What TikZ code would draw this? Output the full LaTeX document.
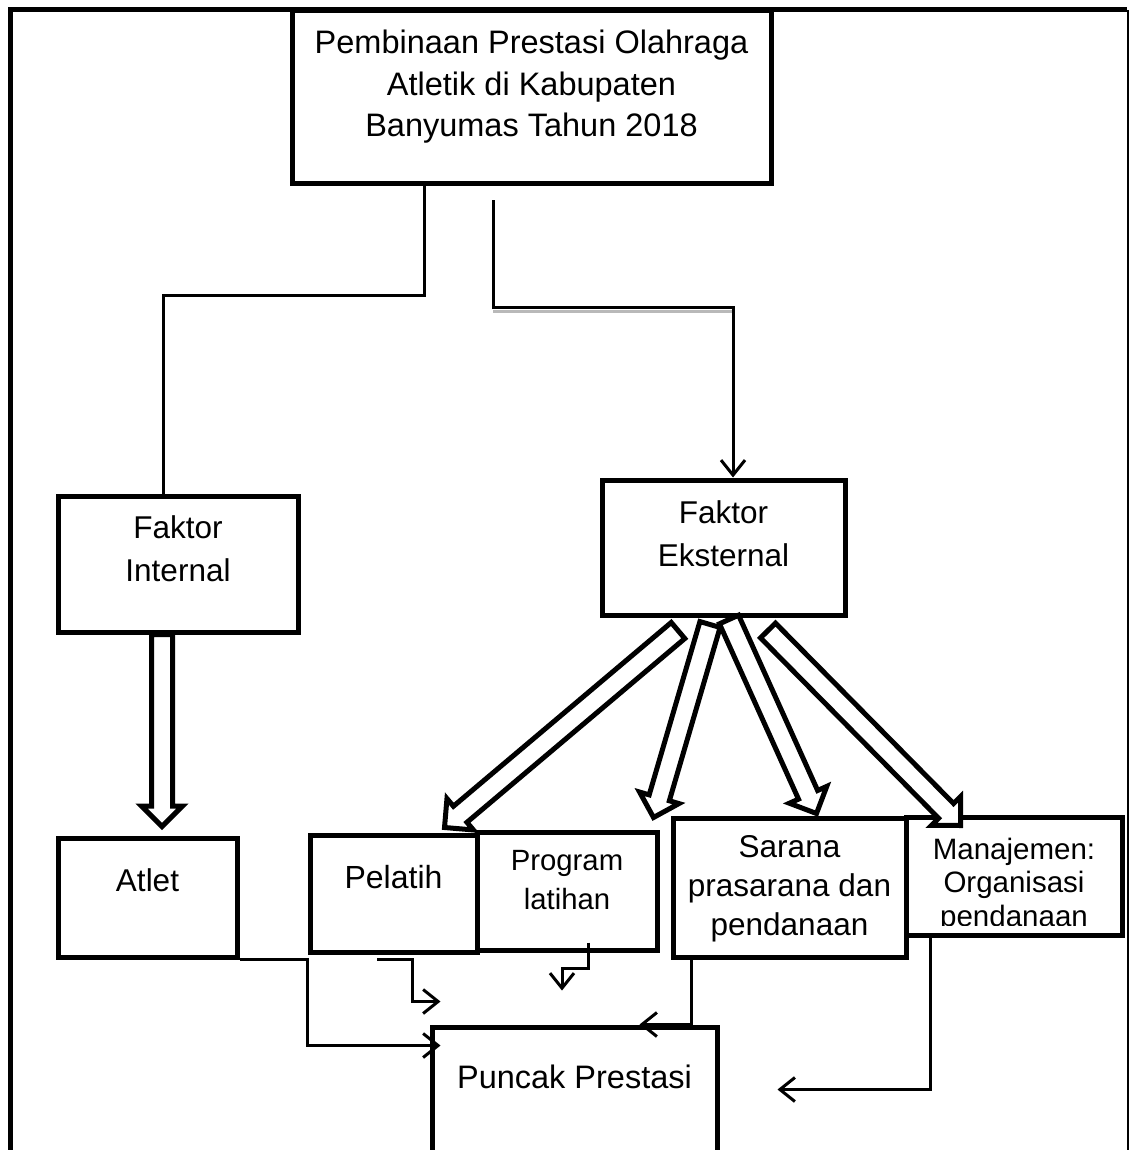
\documentclass[tikz,border=0pt]{standalone}
\usepackage{fontspec}
\setmainfont{Liberation Sans}
\usetikzlibrary{arrows.meta,calc}
\tikzstyle{box} = [rectangle, draw=black, line width=5pt, fill=white, inner sep=0pt]
\tikzstyle{txt} = [align=center, inner sep=0pt, font=\fontsize{31.5}{43}\selectfont]
\tikzstyle{line} = [line width=3pt]
\tikzstyle{arrow} = [line width=3pt, -{Straight Barb[length=15pt,width=24pt]}]
\tikzstyle{fat} = [draw=black, fill=white, line width=5pt, line join=miter]
\newcommand{\blockarrow}[2]{%
  \path let \p1=($(#2)-(#1)$) in
    \pgfextra{\pgfmathsetmacro{\arrang}{atan2(\y1,\x1)}\pgfmathsetmacro{\arrlen}{veclen(\x1,\y1)}%
      \global\let\arrang\arrang\global\let\arrlen\arrlen};
  \draw [fat, shift={(#1)}, rotate=\arrang]
    (0,-10.5) -- (\arrlen-20.5,-10.5) -- (\arrlen-20.5,-20.5) -- (\arrlen,0)
    -- (\arrlen-20.5,20.5) -- (\arrlen-20.5,10.5) -- (0,10.5) -- cycle;}

\begin{document}
\begin{tikzpicture}[x=1pt, y=-1pt]
	\useasboundingbox [fill=white] (0,0) rectangle (1129,1150);
	\draw [line width=5pt] (10,1160) -- (10,10) -- (1127,10);
	\draw [line width=2pt] (1127.5,10) -- (1127.5,1160);

	\node (title) [box, minimum width=479, minimum height=173] at (531.5,97.5) {};
	\node (titletext) [txt, font=\fontsize{32.5}{41.5}\selectfont] at ([yshift=10.5]title.center)
		{Pembinaan Prestasi Olahraga\\Atletik di Kabupaten\\Banyumas Tahun 2018};

	\node (intl) [box, minimum width=240, minimum height=136] at (178,564) {};
	\node (intltext) [txt] at ([yshift=15.5]intl.center) {Faktor\\Internal};
	\node (extl) [box, minimum width=243, minimum height=135] at (723.5,547.5) {};
	\node (extltext) [txt] at ([yshift=14]extl.center) {Faktor\\Eksternal};

	\node (atlet) [box, minimum width=179, minimum height=119] at (147.5,897.5) {};
	\node (atlettext) [txt] at ([yshift=17.5]atlet.center) {Atlet};
	\node (pelatih) [box, minimum width=167, minimum height=117] at (393.5,893.5) {};
	\node (pelatihtext) [txt, font=\fontsize{32}{43}\selectfont] at ([yshift=16]pelatih.center) {Pelatih};
	\node (program) [box, minimum width=180, minimum height=118] at (567,891) {};
	\node (programtext) [txt, font=\fontsize{29.3}{39}\selectfont] at ([yshift=10.5]program.center)
		{Program\\latihan};
	\node (sarana) [box, minimum width=233, minimum height=139] at (789.5,887.5) {};
	\node (saranatext) [txt, font=\fontsize{31.5}{39}\selectfont] at ([yshift=-1.5]sarana.center)
		{Sarana\\prasarana dan\\pendanaan};
	\node (manaj) [box, minimum width=216, minimum height=118] at (1014,876) {};
	\begin{scope}
		\clip (906,817) rectangle (1122,925);
		\node (manajtext) [txt, font=\fontsize{29.5}{33.5}\selectfont] at ([yshift=-9]manaj.center)
			{Manajemen:\\Organisasi\\pendanaan};
	\end{scope}
	\node (puncak) [box, minimum width=285, minimum height=173] at (574.5,1113.5) {};
	\node (puncaktext) [txt, font=\fontsize{32.5}{43}\selectfont] at ([yshift=-52]puncak.north) {Puncak Prestasi};

	\draw [line] ([xshift=-107.5]title.south) -- ++(0,109) -| ([xshift=-15]intl.north);
	\draw [gray!55, line width=3pt] ([xshift=-38.5,yshift=-124.5]title.south) -- ++(240,0);
	\draw [arrow] ([xshift=-38.5,yshift=-14]title.south) -- ++(0,107) -| ([xshift=9.5]extl.north);

	\draw [arrow] (atlet.south east) -- ++(68,0) |- ([xshift=11,yshift=-21]puncak.north west);
	\draw [arrow] ([xshift=-16.5,yshift=-5]pelatih.south) -- ++(35,0) |- ([xshift=11,yshift=23]puncak.north west);
	\draw [arrow] ([xshift=21,yshift=10]program.south) -- ++(0,26) -- ++(-26,0) -- ++(0,22);
	\draw [arrow] ([xshift=-98.5]sarana.south) |- ([xshift=210]puncak.north west);
	\draw [arrow] ([xshift=-84]manaj.south) |- ([xshift=58,yshift=-65]puncak.north east);

	\coordinate (dn1) at ([xshift=-16]intl.south);
	\coordinate (dn2) at ([xshift=14.5,yshift=9]atlet.north);
	\coordinate (e1s) at ([xshift=-45.5,yshift=-13]extl.south);
	\coordinate (e1t) at ([xshift=-35,yshift=5]pelatih.north east);
	\coordinate (e2s) at ([xshift=-13.5,yshift=-7]extl.south);
	\coordinate (e2t) at ([xshift=-6,yshift=12]program.north east);
	\coordinate (e3s) at ([xshift=5.5,yshift=-2]extl.south);
	\coordinate (e3t) at ([xshift=27,yshift=2]sarana.north);
	\coordinate (e4s) at ([xshift=44.5,yshift=-13]extl.south);
	\coordinate (e4t) at ([xshift=57,yshift=-11]manaj.north west);
	\blockarrow{dn1}{dn2}
	\blockarrow{e1s}{e1t}
	\blockarrow{e4s}{e4t}
	\blockarrow{e2s}{e2t}
	\blockarrow{e3s}{e3t}
\end{tikzpicture}
\end{document}
